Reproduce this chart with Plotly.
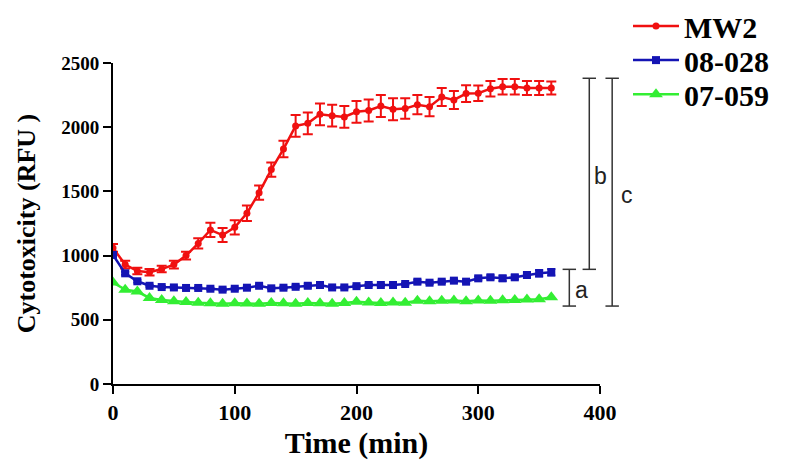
import plotly.graph_objects as go

time_min = [0, 10, 20, 30, 40, 50, 60, 70, 80, 90, 100, 110, 120, 130, 140, 150, 160, 170, 180,
            190, 200, 210, 220, 230, 240, 250, 260, 270, 280, 290, 300, 310, 320, 330, 340, 350, 360]

mw2 = [1060, 930, 880, 870, 895, 930, 1000, 1095, 1200, 1160, 1220, 1330, 1490, 1670, 1830, 2010,
       2030, 2100, 2090, 2080, 2120, 2130, 2165, 2140, 2145, 2175, 2160, 2235, 2212, 2262, 2265,
       2300, 2315, 2315, 2305, 2305, 2305]
mw2_err = [30, 30, 25, 25, 25, 30, 30, 40, 55, 55, 55, 60, 55, 55, 65, 85, 85, 85, 85, 85, 85,
           85, 85, 85, 80, 75, 75, 70, 70, 65, 60, 60, 60, 60, 55, 55, 50]

s08_028 = [1005, 862, 800, 765, 755, 752, 748, 748, 742, 735, 742, 750, 765, 745, 750, 757, 765,
           771, 752, 752, 762, 771, 771, 771, 779, 797, 789, 797, 805, 797, 823, 831, 823, 831,
           849, 862, 870]
s08_028_err = [15, 12, 10, 8, 8, 8, 8, 8, 8, 8, 8, 8, 10, 8, 8, 10, 15, 10, 8, 8, 8, 8, 8, 8, 8,
               15, 10, 10, 10, 10, 15, 15, 20, 15, 20, 25, 25]

s07_059 = [790, 735, 720, 670, 655, 645, 638, 632, 628, 625, 628, 626, 625, 630, 628, 625, 630,
           628, 625, 630, 640, 635, 630, 635, 632, 648, 645, 648, 650, 645, 650, 648, 652, 655,
           658, 660, 675]

x_ticks = [0, 100, 200, 300, 400]
y_ticks = [0, 500, 1000, 1500, 2000, 2500]

RED = "#f01010"
BLUE = "#1414b4"
GREEN = "#33ee33"
FONT = "Liberation Serif"

fig = go.Figure()
fig.add_trace(go.Scatter(
    x=time_min, y=mw2, name="MW2", mode="lines+markers", legend="legend",
    line=dict(color=RED, width=2.5),
    marker=dict(symbol="circle", size=7, color=RED),
    error_y=dict(type="data", array=mw2_err, color=RED, thickness=2, width=5),
))
fig.add_trace(go.Scatter(
    x=time_min, y=s08_028, name="08-028", mode="lines+markers", legend="legend2",
    line=dict(color=BLUE, width=2.5),
    marker=dict(symbol="square", size=8, color=BLUE),
    error_y=dict(type="data", array=s08_028_err, color=BLUE, thickness=2, width=4),
))
fig.add_trace(go.Scatter(
    x=time_min, y=s07_059, name="07-059", mode="lines+markers", legend="legend3",
    line=dict(color=GREEN, width=2.5),
    marker=dict(symbol="triangle-up", size=12, color=GREEN),
))

# significance brackets (paper x, data y)
brackets = [
    # x (paper), y_top, y_bottom, label, label_x, label_y
    (0.937, 893, 607, "a", 0.980, 735),
    (0.978, 2381, 893, "b", 1.019, 1620),
    (1.025, 2381, 607, "c", 1.071, 1470),
]
cap = 0.0138
for bx, ytop, ybot, lab, lx, ly in brackets:
    fig.add_shape(type="line", xref="paper", yref="y", x0=bx, x1=bx, y0=ybot, y1=ytop,
                  line=dict(color="#333333", width=1.5))
    for yy in (ytop, ybot):
        fig.add_shape(type="line", xref="paper", yref="y", x0=bx - cap, x1=bx + cap, y0=yy, y1=yy,
                      line=dict(color="#333333", width=1.5))
    fig.add_annotation(x=lx, y=ly, xref="paper", yref="y", text=lab, showarrow=False,
                       font=dict(family="Liberation Sans", size=23, color="#222222"))

leg_common = dict(x=1.0575, xanchor="left", yanchor="middle", itemwidth=46,
                  bgcolor="rgba(0,0,0,0)",
                  font=dict(family=FONT, size=30, color="black", weight="bold"))

# page body adds an 8px offset, so the figure is drawn 8px smaller and margins shifted
fig.update_layout(
    width=792, height=466,
    margin=dict(l=105, r=200, t=55, b=90, autoexpand=False),
    paper_bgcolor="white", plot_bgcolor="white",
    font=dict(family=FONT, color="black"),
    showlegend=True,
    legend=dict(y=1.115, **leg_common),
    legend2=dict(y=1.009, **leg_common),
    legend3=dict(y=0.903, **leg_common),
    xaxis=dict(range=[0, 400], tickvals=x_ticks, ticktext=[str(v) for v in x_ticks],
               showgrid=False, zeroline=False, showline=True, linecolor="black", linewidth=2,
               ticks="outside", ticklen=8, tickwidth=2, tickcolor="black",
               tickfont=dict(family=FONT, size=22, color="black", weight="bold"),
               title=dict(text="Time (min)", standoff=8,
                          font=dict(family=FONT, size=30, color="black", weight="bold"))),
    yaxis=dict(range=[0, 2500], tickvals=y_ticks, ticktext=[str(v) for v in y_ticks],
               showgrid=False, zeroline=False, showline=True, linecolor="black", linewidth=2,
               ticks="outside", ticklen=8, tickwidth=2, tickcolor="black",
               tickfont=dict(family=FONT, size=19, color="black", weight="bold"),
               title=dict(text="Cytotoxicity (RFU )", standoff=18,
                          font=dict(family=FONT, size=26, color="black", weight="bold"))),
)

fig.write_html("out.html")
